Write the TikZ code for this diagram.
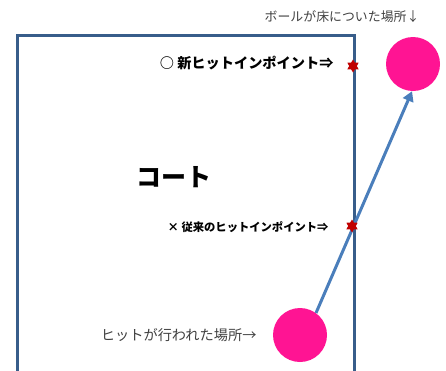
\documentclass[tikz,border=0pt]{standalone}
\usepackage{fontspec}
\setmainfont{Noto Sans CJK JP}
\usetikzlibrary{shapes.geometric,arrows.meta}
\definecolor{courtblue}{RGB}{56,93,138}
\definecolor{pathblue}{RGB}{74,126,187}
\definecolor{ballpink}{RGB}{255,20,147}
\definecolor{hitred}{RGB}{192,0,0}
\definecolor{textgray}{RGB}{64,64,64}
\begin{document}
\begin{tikzpicture}[x=1pt,y=-1pt]
\useasboundingbox (0,0) rectangle (446,370);
% court lines
\draw[courtblue, line width=3pt] (17,372) -- (17,35) -- (354,35) -- (354,372);
% ball positions
\node[circle, minimum size=54pt, inner sep=0pt, fill=ballpink] (ball) at (413,64){};
\node[circle, minimum size=54pt, inner sep=0pt, fill=ballpink] (hit) at (300,335){};
\draw[pathblue, line width=3pt, -{Triangle[open, length=10pt, width=11pt, fill=pathblue]}](hit.54) -- (ball.268);
% hit-in points
\node[star, star points=6, star point ratio=1.7, minimum size=13pt, inner sep=0pt, fill=hitred] (newpt) at (353,66){};
\node[star, star points=6, star point ratio=1.7, minimum size=13pt, inner sep=0pt, fill=hitred] (oldpt) at (352,226){};
% labels
\node[textgray, font=\fontsize{12.9}{15}\selectfont, anchor=east] (balltxt) at (423,17){ボールが床についた場所↓};
\node[font=\fontsize{14.2}{17}\selectfont\bfseries, anchor=east] (newtxt) at (337,63){○ 新ヒットインポイント⇒};
\node[font=\fontsize{25}{30}\selectfont\bfseries] (courttxt) at (174,177){コート};
\node[font=\fontsize{11.3}{13}\selectfont\bfseries, anchor=east] (oldtxt) at (332,227){× 従来のヒットインポイント⇒};
\node[textgray, font=\fontsize{14.2}{17}\selectfont, anchor=east] (hittxt) at (260,335){ヒットが行われた場所→};
\end{tikzpicture}
\end{document}
